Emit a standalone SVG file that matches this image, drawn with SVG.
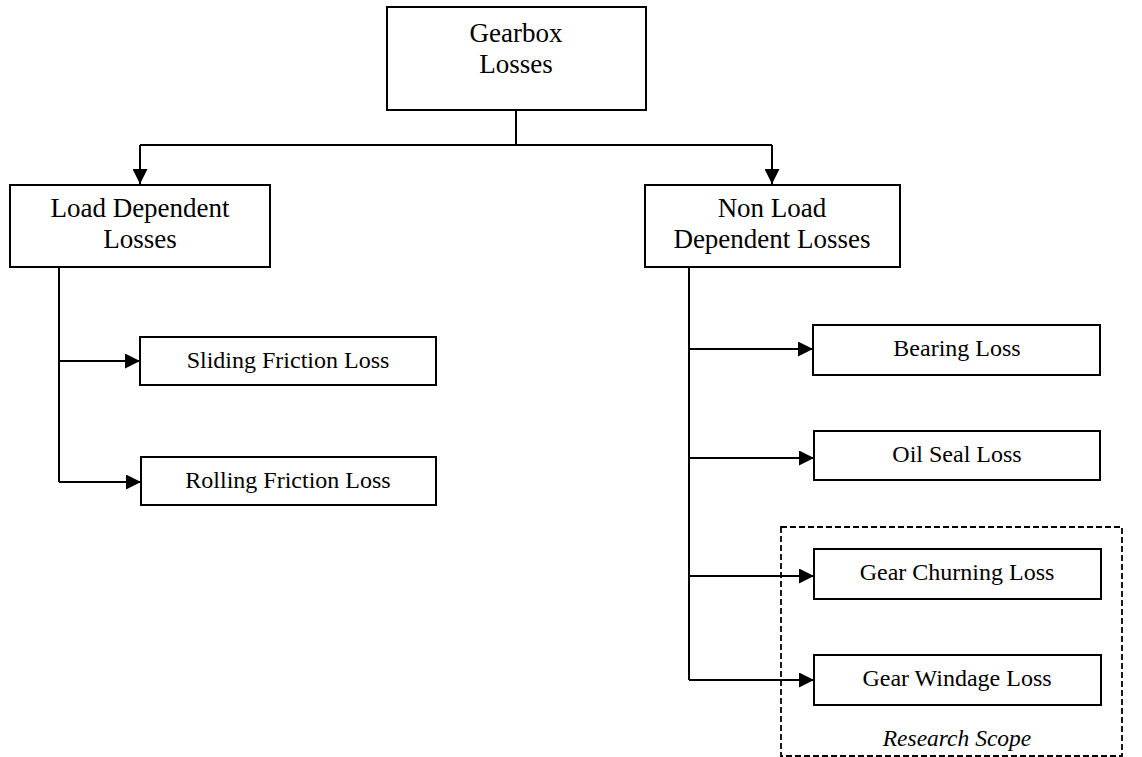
<svg xmlns="http://www.w3.org/2000/svg" width="1142" height="757" viewBox="0 0 1142 757">
<style>
.box{fill:#fff;stroke:#000;stroke-width:2}
.ln{fill:none;stroke:#000;stroke-width:2}
.t{font-family:"Liberation Serif",serif;fill:#000;text-anchor:middle}
.big{font-size:27px}
.sm{font-size:24px}
</style>
<defs>
<marker id="ah" viewBox="0 0 15 15" refX="15" refY="7.5" markerWidth="15" markerHeight="15" markerUnits="userSpaceOnUse" orient="auto">
<path d="M0,0 L15,7.5 L0,15 Z" fill="#000"/>
</marker>
</defs>
<rect width="1142" height="757" fill="#fff"/>
<g id="scope">
<rect x="781" y="527" width="341" height="229" fill="none" stroke="#000" stroke-width="1.8" stroke-dasharray="6,3"/>
<text class="t" x="957" y="746" font-size="23.5px" font-style="italic">Research Scope</text>
</g>
<g id="connectors">
<path class="ln" d="M516,110 V145 M140,145 H772"/>
<path class="ln" d="M140,145 V184" marker-end="url(#ah)"/>
<path class="ln" d="M772,145 V184" marker-end="url(#ah)"/>
<path class="ln" d="M59,267 V482"/>
<path class="ln" d="M59,361 H140" marker-end="url(#ah)"/>
<path class="ln" d="M59,482 H141" marker-end="url(#ah)"/>
<path class="ln" d="M689,267 V680"/>
<path class="ln" d="M689,349 H813" marker-end="url(#ah)"/>
<path class="ln" d="M689,458 H814" marker-end="url(#ah)"/>
<path class="ln" d="M689,576 H814" marker-end="url(#ah)"/>
<path class="ln" d="M689,680 H814" marker-end="url(#ah)"/>
</g>
<g id="gearbox">
<rect class="box" x="387" y="7" width="259" height="103"/>
<text class="t big" x="516" y="42">Gearbox</text>
<text class="t big" x="516" y="73">Losses</text>
</g>
<g id="load">
<rect class="box" x="10" y="185" width="260" height="82"/>
<text class="t big" x="140" y="217">Load Dependent</text>
<text class="t big" x="140" y="248">Losses</text>
</g>
<g id="nonload">
<rect class="box" x="645" y="185" width="255" height="82"/>
<text class="t big" x="772" y="217">Non Load</text>
<text class="t big" x="772" y="248">Dependent Losses</text>
</g>
<g id="sliding">
<rect class="box" x="140" y="337" width="296" height="48"/>
<text class="t sm" x="288" y="368">Sliding Friction Loss</text>
</g>
<g id="rolling">
<rect class="box" x="141" y="457" width="295" height="48"/>
<text class="t sm" x="288" y="488">Rolling Friction Loss</text>
</g>
<g id="bearing">
<rect class="box" x="813" y="325" width="287" height="50"/>
<text class="t sm" x="957" y="356">Bearing Loss</text>
</g>
<g id="oilseal">
<rect class="box" x="814" y="431" width="286" height="49"/>
<text class="t sm" x="957" y="462">Oil Seal Loss</text>
</g>
<g id="churning">
<rect class="box" x="814" y="549" width="287" height="50"/>
<text class="t sm" x="957" y="580">Gear Churning Loss</text>
</g>
<g id="windage">
<rect class="box" x="814" y="655" width="287" height="50"/>
<text class="t sm" x="957" y="686">Gear Windage Loss</text>
</g>
</svg>
